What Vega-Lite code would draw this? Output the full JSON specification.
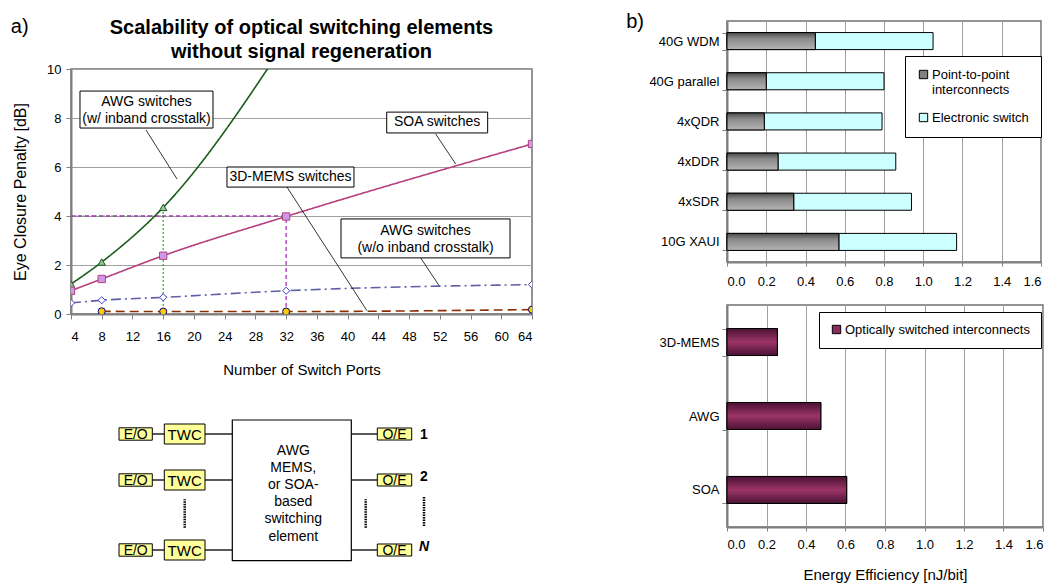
{
  "$schema": "https://vega.github.io/schema/vega-lite/v6.json",
  "padding": {"left": 10, "top": 12, "right": 0, "bottom": 0},
  "config": {
    "font": "Liberation Sans",
    "view": {"stroke": "#707070", "strokeWidth": 1.5},
    "axis": {"labelColor": "black", "titleColor": "black", "titleFontWeight": "normal", "labelFontSize": 13, "titleFontSize": 15, "domainColor": "#808080", "tickColor": "#808080", "gridColor": "#a0a0a0"},
    "title": {"color": "black"}
  },
  "spacing": 92,
  "resolve": {"scale": {"color": "independent", "x": "independent", "y": "independent"}, "legend": {"color": "independent"}},
  "datasets": {
    "series": [
      {"s": "AWG w/ inband crosstalk", "ports": 4, "ecp": 1.22},
      {"s": "AWG w/ inband crosstalk", "ports": 8, "ecp": 2.12},
      {"s": "AWG w/ inband crosstalk", "ports": 16, "ecp": 4.35},
      {"s": "AWG w/ inband crosstalk", "ports": 32, "ecp": 11.15},
      {"s": "SOA", "ports": 4, "ecp": 0.95},
      {"s": "SOA", "ports": 8, "ecp": 1.43},
      {"s": "SOA", "ports": 16, "ecp": 2.38},
      {"s": "SOA", "ports": 32, "ecp": 3.98},
      {"s": "SOA", "ports": 64, "ecp": 6.94},
      {"s": "AWG w/o inband crosstalk", "ports": 4, "ecp": 0.45},
      {"s": "AWG w/o inband crosstalk", "ports": 8, "ecp": 0.56},
      {"s": "AWG w/o inband crosstalk", "ports": 16, "ecp": 0.68},
      {"s": "AWG w/o inband crosstalk", "ports": 32, "ecp": 0.95},
      {"s": "AWG w/o inband crosstalk", "ports": 64, "ecp": 1.2},
      {"s": "3D-MEMS", "ports": 8, "ecp": 0.11},
      {"s": "3D-MEMS", "ports": 16, "ecp": 0.1},
      {"s": "3D-MEMS", "ports": 32, "ecp": 0.1},
      {"s": "3D-MEMS", "ports": 64, "ecp": 0.18}
    ],
    "energy": [
      {"cat": "40G WDM", "type": "Point-to-point interconnects", "value": 0.45},
      {"cat": "40G WDM", "type": "Electronic switch", "value": 0.6},
      {"cat": "40G parallel", "type": "Point-to-point interconnects", "value": 0.2},
      {"cat": "40G parallel", "type": "Electronic switch", "value": 0.6},
      {"cat": "4xQDR", "type": "Point-to-point interconnects", "value": 0.19},
      {"cat": "4xQDR", "type": "Electronic switch", "value": 0.6},
      {"cat": "4xDDR", "type": "Point-to-point interconnects", "value": 0.26},
      {"cat": "4xDDR", "type": "Electronic switch", "value": 0.6},
      {"cat": "4xSDR", "type": "Point-to-point interconnects", "value": 0.34},
      {"cat": "4xSDR", "type": "Electronic switch", "value": 0.6},
      {"cat": "10G XAUI", "type": "Point-to-point interconnects", "value": 0.57},
      {"cat": "10G XAUI", "type": "Electronic switch", "value": 0.6}
    ],
    "optical": [
      {"cat": "3D-MEMS", "type": "Optically switched interconnects", "value": 0.255},
      {"cat": "AWG", "type": "Optically switched interconnects", "value": 0.475},
      {"cat": "SOA", "type": "Optically switched interconnects", "value": 0.606}
    ]
  },
  "hconcat": [
    {
      "title": {"text": "a)", "anchor": "start", "frame": "bounds", "fontSize": 20, "fontWeight": "normal", "offset": -21, "dx": -1},
      "spacing": 0,
      "vconcat": [
        {
          "width": 461,
          "height": 1,
          "view": {"stroke": null},
          "title": {"text": ["Scalability of optical switching elements", "without signal regeneration"], "orient": "bottom", "fontSize": 20, "fontWeight": "bold", "anchor": "middle", "lineHeight": 24, "offset": -9},
          "data": {"values": [{"t": ""}]},
          "mark": {"type": "text"},
          "encoding": {"text": {"field": "t"}}
        },
        {
          "width": 461,
          "height": 245,
          "layer": [
            {
              "data": {"values": [{"x": 4, "x2": 16, "y": 4, "y2": 4}, {"x": 16, "x2": 16, "y": 0, "y2": 4.35}]},
              "mark": {"type": "rule", "color": "#33aa33", "strokeWidth": 1.2, "strokeDash": [2, 2]},
              "encoding": {
                "x": {"field": "x", "type": "quantitative", "scale": {"domain": [4, 64], "nice": false, "zero": false}, "axis": {"values": [4, 8, 12, 16, 20, 24, 28, 32, 36, 40, 44, 48, 52, 56, 60, 64], "tickCount": 20, "title": "Number of Switch Ports", "grid": false, "tickSize": 5, "labelPadding": 11, "titlePadding": 19, "domainWidth": 2}},
                "x2": {"field": "x2"},
                "y": {"field": "y", "type": "quantitative", "scale": {"domain": [0, 10], "nice": false}, "axis": {"values": [0, 2, 4, 6, 8, 10], "tickCount": 10, "title": "Eye Closure Penalty [dB]", "titleFontSize": 16, "grid": true, "tickSize": 5, "labelPadding": 5, "titlePadding": 18, "domainWidth": 2}},
                "y2": {"field": "y2"}
              }
            },
            {
              "data": {"values": [{"x": 4, "x2": 32, "y": 4, "y2": 4}, {"x": 32, "x2": 32, "y": 0, "y2": 4}]},
              "mark": {"type": "rule", "color": "#aa33bb", "strokeWidth": 1.3, "strokeDash": [4, 3]},
              "encoding": {
                "x": {"field": "x", "type": "quantitative"},
                "x2": {"field": "x2"},
                "y": {"field": "y", "type": "quantitative"},
                "y2": {"field": "y2"}
              }
            },
            {
              "data": {"name": "series"},
              "mark": {"type": "line", "clip": true, "interpolate": "monotone"},
              "encoding": {
                "x": {"field": "ports", "type": "quantitative"},
                "y": {"field": "ecp", "type": "quantitative"},
                "color": {"field": "s", "type": "nominal", "scale": {"domain": ["AWG w/ inband crosstalk", "SOA", "AWG w/o inband crosstalk", "3D-MEMS"], "range": ["#1a5c1a", "#b5407d", "#5f5fa8", "#8b2e00"]}, "legend": null},
                "strokeDash": {"field": "s", "type": "nominal", "scale": {"domain": ["AWG w/ inband crosstalk", "SOA", "AWG w/o inband crosstalk", "3D-MEMS"], "range": [[1, 0], [1, 0], [10, 4, 2, 4], [9, 5]]}, "legend": null},
                "strokeWidth": {"field": "s", "type": "nominal", "scale": {"domain": ["AWG w/ inband crosstalk", "SOA", "AWG w/o inband crosstalk", "3D-MEMS"], "range": [1.6, 1.6, 2.4, 2.6]}, "legend": null}
              }
            },
            {
              "data": {"name": "series"},
              "mark": {"type": "point", "filled": true, "clip": true, "strokeWidth": 1, "opacity": 1},
              "encoding": {
                "x": {"field": "ports", "type": "quantitative"},
                "y": {"field": "ecp", "type": "quantitative"},
                "shape": {"field": "s", "type": "nominal", "scale": {"domain": ["AWG w/ inband crosstalk", "SOA", "AWG w/o inband crosstalk", "3D-MEMS"], "range": ["triangle-up", "square", "diamond", "circle"]}, "legend": null},
                "fill": {"field": "s", "type": "nominal", "scale": {"domain": ["AWG w/ inband crosstalk", "SOA", "AWG w/o inband crosstalk", "3D-MEMS"], "range": ["#99c299", "#cc99ee", "#ffffff", "#ffcc00"]}, "legend": null},
                "stroke": {"field": "s", "type": "nominal", "scale": {"domain": ["AWG w/ inband crosstalk", "SOA", "AWG w/o inband crosstalk", "3D-MEMS"], "range": ["#1a5c1a", "#b5407d", "#4040cc", "#000080"]}, "legend": null},
                "size": {"field": "s", "type": "nominal", "scale": {"domain": ["AWG w/ inband crosstalk", "SOA", "AWG w/o inband crosstalk", "3D-MEMS"], "range": [55, 50, 70, 40]}, "legend": null}
              }
            },
            {
              "data": {"values": [
                {"x": 13.76, "y": 7.51, "x2": 17.8, "y2": 5.51},
                {"x": 51.46, "y": 7.35, "x2": 54.07, "y2": 6.12},
                {"x": 32.11, "y": 5.18, "x2": 42.52, "y2": 0.135},
                {"x": 49.51, "y": 2.29, "x2": 51.9, "y2": 1.16}
              ]},
              "mark": {"type": "rule", "color": "black", "strokeWidth": 0.8},
              "encoding": {
                "x": {"field": "x", "type": "quantitative"},
                "x2": {"field": "x2"},
                "y": {"field": "y", "type": "quantitative"},
                "y2": {"field": "y2"}
              }
            },
            {
              "data": {"values": [
                {"x": 5.17, "x2": 22.48, "y": 9.1, "y2": 7.59},
                {"x": 45.09, "x2": 58.23, "y": 8.24, "y2": 7.39},
                {"x": 24.3, "x2": 40.83, "y": 6.0, "y2": 5.18},
                {"x": 39.14, "x2": 61.14, "y": 3.88, "y2": 2.29}
              ]},
              "mark": {"type": "rect", "fill": "white", "stroke": "black", "strokeWidth": 1},
              "encoding": {
                "x": {"field": "x", "type": "quantitative"},
                "x2": {"field": "x2"},
                "y": {"field": "y", "type": "quantitative"},
                "y2": {"field": "y2"}
              }
            },
            {
              "data": {"values": [
                {"t": ["AWG switches", "(w/ inband crosstalk)"], "x": 13.83, "y": 8.64},
                {"t": ["SOA switches"], "x": 51.66, "y": 7.82},
                {"t": ["3D-MEMS switches"], "x": 32.57, "y": 5.59},
                {"t": ["AWG switches", "(w/o inband crosstalk)"], "x": 50.14, "y": 3.4}
              ]},
              "mark": {"type": "text", "fontSize": 14, "lineHeight": 17, "align": "center", "baseline": "middle", "color": "black"},
              "encoding": {
                "x": {"field": "x", "type": "quantitative"},
                "y": {"field": "y", "type": "quantitative"},
                "text": {"field": "t"}
              }
            }
          ]
        },
        {
          "width": 461,
          "height": 197,
          "view": {"stroke": null},
          "encoding": {
            "x": {"field": "x", "type": "quantitative", "scale": {"domain": [0, 461], "nice": false, "zero": false}, "axis": null},
            "y": {"field": "y", "type": "quantitative", "scale": {"domain": [0, 197], "nice": false, "zero": false}, "axis": null}
          },
          "layer": [
            {
              "data": {"values": [
                {"x": 81.3, "x2": 93.3, "y": 141, "y2": 141},
                {"x": 81.3, "x2": 93.3, "y": 95, "y2": 95},
                {"x": 81.3, "x2": 93.3, "y": 25, "y2": 25},
                {"x": 134, "x2": 161.3, "y": 141, "y2": 141},
                {"x": 134, "x2": 161.3, "y": 95, "y2": 95},
                {"x": 134, "x2": 161.3, "y": 25, "y2": 25},
                {"x": 280.3, "x2": 306.3, "y": 141, "y2": 141},
                {"x": 280.3, "x2": 306.3, "y": 95, "y2": 95},
                {"x": 280.3, "x2": 306.3, "y": 25, "y2": 25}
              ]},
              "mark": {"type": "rule", "color": "black", "strokeWidth": 1.3},
              "encoding": {"x2": {"field": "x2"}, "y2": {"field": "y2"}}
            },
            {
              "data": {"values": [
                {"x": 113.7, "x2": 113.7, "y": 47.3, "y2": 75.7},
                {"x": 294.7, "x2": 294.7, "y": 47.3, "y2": 75.7},
                {"x": 353, "x2": 353, "y": 49, "y2": 78.3}
              ]},
              "mark": {"type": "rule", "color": "black", "strokeWidth": 2.5, "strokeDash": [1.5, 1]},
              "encoding": {"x2": {"field": "x2"}, "y2": {"field": "y2"}}
            },
            {
              "data": {"values": [
                {"x": 48, "x2": 81.3, "y": 134.8, "y2": 147.2},
                {"x": 48, "x2": 81.3, "y": 88.8, "y2": 101.2},
                {"x": 48, "x2": 81.3, "y": 18.8, "y2": 31.2},
                {"x": 93.3, "x2": 134, "y": 131, "y2": 151},
                {"x": 93.3, "x2": 134, "y": 85, "y2": 105},
                {"x": 93.3, "x2": 134, "y": 15, "y2": 35},
                {"x": 306.3, "x2": 340.7, "y": 135, "y2": 147},
                {"x": 306.3, "x2": 340.7, "y": 89, "y2": 101},
                {"x": 306.3, "x2": 340.7, "y": 19, "y2": 31}
              ]},
              "mark": {"type": "rect", "fill": "#ffff99", "stroke": "black", "strokeWidth": 1},
              "encoding": {"x2": {"field": "x2"}, "y2": {"field": "y2"}}
            },
            {
              "data": {"values": [{"x": 161.3, "x2": 280.3, "y": 14.3, "y2": 155}]},
              "mark": {"type": "rect", "fill": "white", "stroke": "black", "strokeWidth": 1.2},
              "encoding": {"x2": {"field": "x2"}, "y2": {"field": "y2"}}
            },
            {
              "data": {"values": [
                {"t": "E/O", "x": 64.7, "y": 141},
                {"t": "E/O", "x": 64.7, "y": 95},
                {"t": "E/O", "x": 64.7, "y": 25},
                {"t": "O/E", "x": 323.5, "y": 141},
                {"t": "O/E", "x": 323.5, "y": 95},
                {"t": "O/E", "x": 323.5, "y": 25}
              ]},
              "mark": {"type": "text", "fontSize": 14, "align": "center", "baseline": "middle", "dy": 1, "color": "black"},
              "encoding": {"text": {"field": "t"}}
            },
            {
              "data": {"values": [
                {"t": "TWC", "x": 113.7, "y": 141},
                {"t": "TWC", "x": 113.7, "y": 95},
                {"t": "TWC", "x": 113.7, "y": 25}
              ]},
              "mark": {"type": "text", "fontSize": 15, "align": "center", "baseline": "middle", "dy": 1, "color": "black"},
              "encoding": {"text": {"field": "t"}}
            },
            {
              "data": {"values": [{"t": ["AWG", "MEMS,", "or SOA-", "based", "switching", "element"], "x": 222.3, "y": 124.3}]},
              "mark": {"type": "text", "fontSize": 14, "lineHeight": 17.2, "align": "center", "baseline": "middle", "color": "black"},
              "encoding": {"text": {"field": "t"}}
            },
            {
              "data": {"values": [{"t": "1", "x": 353, "y": 140}, {"t": "2", "x": 353, "y": 97.7}]},
              "mark": {"type": "text", "fontSize": 14, "fontWeight": "bold", "align": "center", "baseline": "middle", "color": "black"},
              "encoding": {"text": {"field": "t"}}
            },
            {
              "data": {"values": [{"t": "N", "x": 353, "y": 28.3}]},
              "mark": {"type": "text", "fontSize": 14, "fontWeight": "bold", "fontStyle": "italic", "align": "center", "baseline": "middle", "color": "black"},
              "encoding": {"text": {"field": "t"}}
            }
          ]
        }
      ]
    },
    {
      "title": {"text": "b)", "anchor": "start", "frame": "bounds", "fontSize": 20, "fontWeight": "normal", "offset": -18, "dx": -22},
      "spacing": 9,
      "resolve": {"scale": {"color": "independent", "x": "independent", "y": "independent"}, "legend": {"color": "independent"}},
      "vconcat": [
        {
          "width": 314,
          "height": 241,
          "data": {"name": "energy"},
          "layer": [
            {
              "mark": {"type": "bar", "stroke": "black", "strokeWidth": 1},
              "encoding": {
                "y": {"field": "cat", "type": "nominal", "sort": ["40G WDM", "40G parallel", "4xQDR", "4xDDR", "4xSDR", "10G XAUI"], "scale": {"paddingInner": 0.576, "paddingOuter": 0.288}, "axis": {"title": null, "tickBand": "extent", "tickSize": 5, "labelPadding": 3, "domainWidth": 2}},
                "x": {"field": "value", "type": "quantitative", "stack": "zero", "scale": {"domain": [0, 1.6], "nice": false}, "axis": {"title": null, "values": [0, 0.2, 0.4, 0.6, 0.8, 1.0, 1.2, 1.4, 1.6], "tickCount": 12, "format": ".1f", "grid": true, "tickSize": 4, "labelPadding": 9, "domainWidth": 2}},
                "color": {"field": "type", "type": "nominal", "scale": {"domain": ["Point-to-point interconnects", "Electronic switch"], "range": ["#808080", "#ccffff"]}, "legend": {"title": null, "orient": "none", "legendX": 178, "legendY": 35, "labelExpr": "datum.label == 'Point-to-point interconnects' ? ['Point-to-point', 'interconnects'] : datum.label", "symbolType": "square", "symbolSize": 70, "symbolStrokeColor": "black", "symbolStrokeWidth": 1, "labelFontSize": 13, "labelColor": "black", "labelOffset": 2, "strokeColor": "black", "fillColor": "white", "padding": 12, "rowPadding": 14, "labelLimit": 200}},
                "order": {"field": "type", "sort": "descending"}
              }
            },
            {
              "transform": [{"filter": "datum.type === 'Point-to-point interconnects'"}],
              "mark": {"type": "bar", "stroke": "black", "strokeWidth": 1, "fill": {"gradient": "linear", "x1": 0, "y1": 0, "x2": 0, "y2": 1, "stops": [{"offset": 0, "color": "#4a4a4a"}, {"offset": 0.35, "color": "#8a8a8a"}, {"offset": 1, "color": "#b4b4b4"}]}},
              "encoding": {
                "y": {"field": "cat", "type": "nominal", "sort": ["40G WDM", "40G parallel", "4xQDR", "4xDDR", "4xSDR", "10G XAUI"]},
                "x": {"field": "value", "type": "quantitative", "stack": null}
              }
            }
          ]
        },
        {
          "width": 316,
          "height": 222,
          "data": {"name": "optical"},
          "layer": [
            {
              "mark": {"type": "bar", "stroke": "black", "strokeWidth": 1},
              "encoding": {
                "y": {"field": "cat", "type": "nominal", "sort": ["3D-MEMS", "AWG", "SOA"], "scale": {"paddingInner": 0.635, "paddingOuter": 0.318}, "axis": {"title": null, "tickBand": "extent", "tickSize": 5, "labelPadding": 3, "domainWidth": 2}},
                "x": {"field": "value", "type": "quantitative", "scale": {"domain": [0, 1.6], "nice": false}, "axis": {"title": "Energy Efficiency [nJ/bit]", "values": [0, 0.2, 0.4, 0.6, 0.8, 1.0, 1.2, 1.4, 1.6], "tickCount": 12, "format": ".1f", "grid": true, "tickSize": 4, "labelPadding": 7, "titlePadding": 16, "domainWidth": 2}},
                "color": {"field": "type", "type": "nominal", "scale": {"domain": ["Optically switched interconnects"], "range": ["#8a2a5a"]}, "legend": {"title": null, "orient": "none", "legendX": 92, "legendY": 7, "symbolType": "square", "symbolSize": 70, "symbolStrokeColor": "black", "symbolStrokeWidth": 1, "labelFontSize": 13, "labelColor": "black", "labelOffset": 2, "strokeColor": "black", "fillColor": "white", "padding": 11, "labelLimit": 250}}
              }
            },
            {
              "mark": {"type": "bar", "stroke": "black", "strokeWidth": 1, "fill": {"gradient": "linear", "x1": 0, "y1": 0, "x2": 0, "y2": 1, "stops": [{"offset": 0, "color": "#4a1232"}, {"offset": 0.5, "color": "#9c3468"}, {"offset": 1, "color": "#4a1232"}]}},
              "encoding": {
                "y": {"field": "cat", "type": "nominal", "sort": ["3D-MEMS", "AWG", "SOA"]},
                "x": {"field": "value", "type": "quantitative"}
              }
            }
          ]
        }
      ]
    }
  ]
}
